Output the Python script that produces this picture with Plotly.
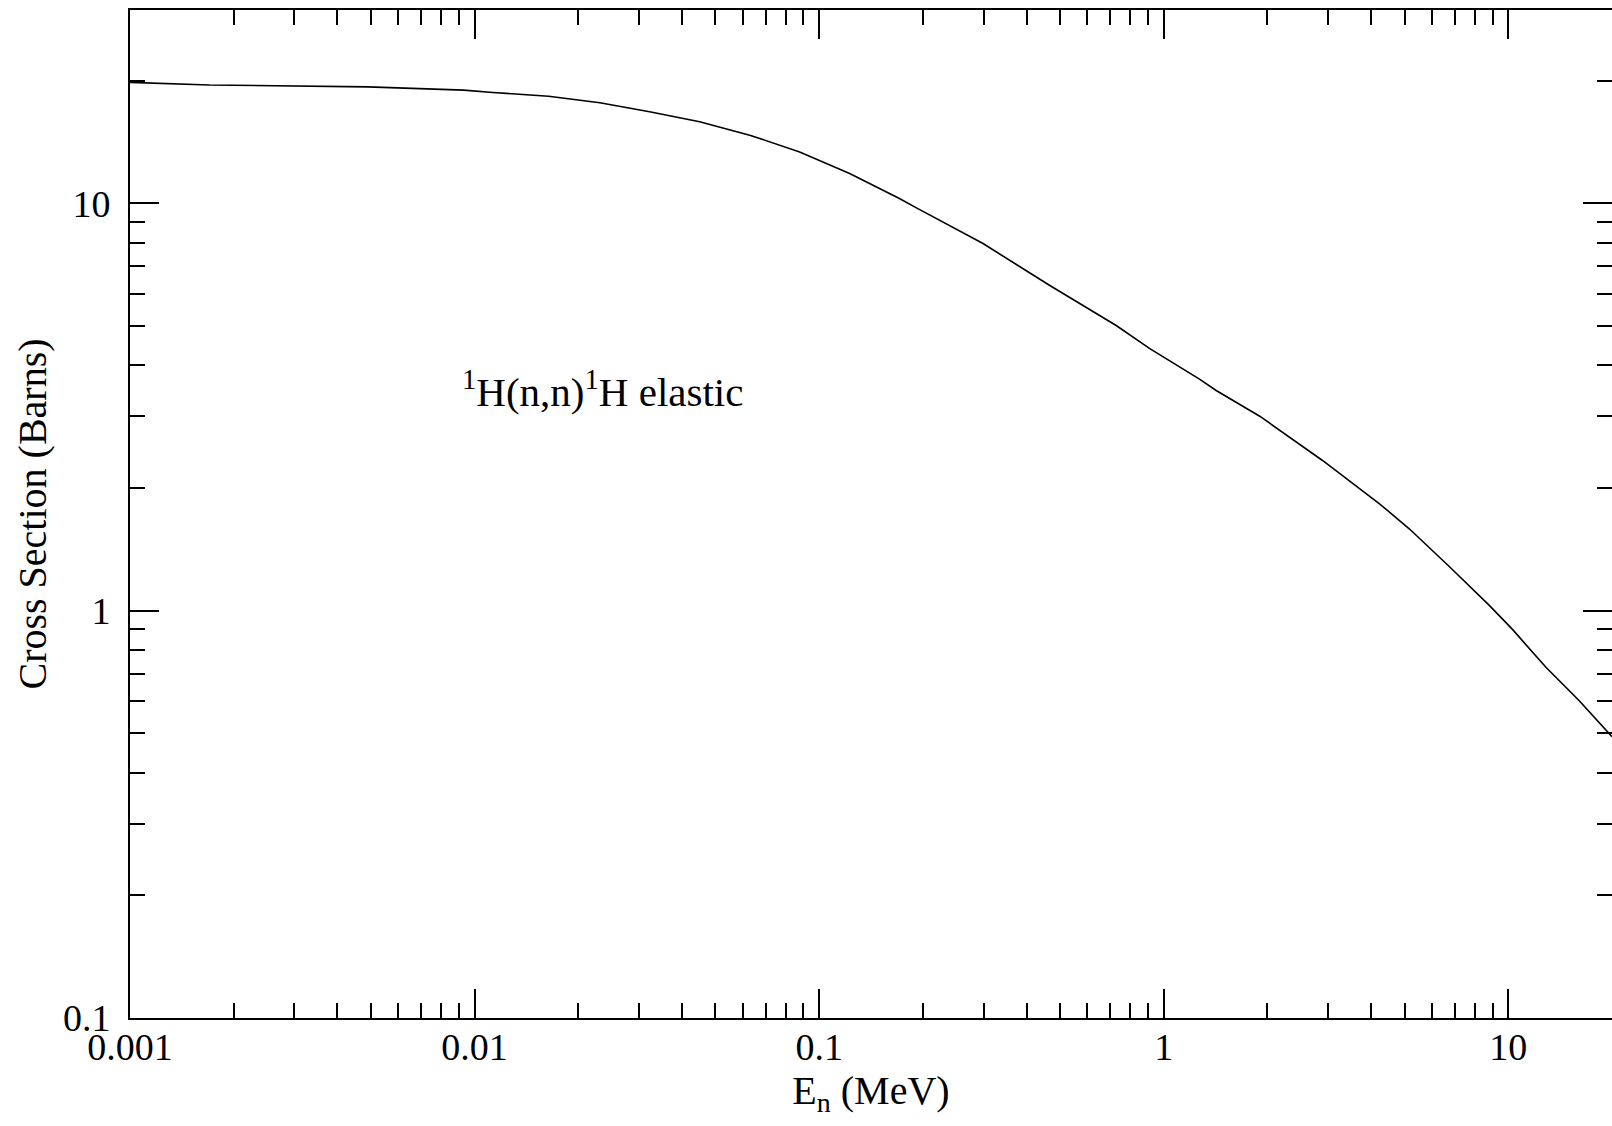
import plotly.graph_objects as go
import numpy as np

# Neutron energy (MeV) and elastic cross section (barns)
energy_mev = [0.001, 0.0017, 0.0049, 0.0093, 0.0113, 0.0164, 0.0231, 0.0322, 0.045,
              0.0629, 0.0878, 0.1226, 0.171, 0.191, 0.299, 0.466, 0.728, 0.909,
              1.27, 1.42, 1.90, 2.89, 4.23, 5.16, 6.74, 8.81, 10.3, 12.86, 16.07, 19.6, 20.0]
sigma_barns = [19.8, 19.5, 19.3, 18.95, 18.7, 18.3, 17.64, 16.76, 15.84,
               14.69, 13.36, 11.83, 10.27, 9.75, 7.96, 6.29, 5.01, 4.40,
               3.70, 3.47, 3.00, 2.336, 1.829, 1.588, 1.283, 1.03, 0.898, 0.726, 0.601, 0.498, 0.49]

x_major = [0.001, 0.01, 0.1, 1, 10]
x_major_labels = ["0.001", "0.01", "0.1", "1", "10"]
y_major = [0.1, 1, 10]
y_major_labels = ["0.1", "1", "10"]
x_minor = [m * 10.0 ** e for e in range(-3, 2) for m in range(2, 10) if m * 10.0 ** e <= 20]
y_minor = [m * 10.0 ** e for e in range(-1, 2) for m in range(2, 10) if m * 10.0 ** e <= 30]

FONT = "Liberation Serif"
FS = 38
X_RANGE = [np.log10(0.001), np.log10(20.0)]
Y_RANGE = [np.log10(0.1), 1.4742]

fig = go.Figure()
fig.add_trace(go.Scatter(x=energy_mev, y=sigma_barns, mode="lines",
                         line=dict(color="black", width=1.6), showlegend=False))
# invisible twin trace so the right-hand tick axis is drawn
fig.add_trace(go.Scatter(x=energy_mev, y=sigma_barns, mode="lines", yaxis="y2",
                         line=dict(color="rgba(0,0,0,0)", width=0), showlegend=False,
                         hoverinfo="skip"))

axis_common = dict(type="log", ticks="inside", ticklen=29, tickwidth=2, tickcolor="black",
                   showgrid=False, zeroline=False,
                   tickfont=dict(family=FONT, size=FS, color="black"))

fig.update_layout(
    width=1612, height=1126,
    margin=dict(l=130, r=0, t=10, b=108),
    paper_bgcolor="white", plot_bgcolor="white",
    font=dict(family=FONT, size=FS, color="black"),
    xaxis=dict(**axis_common, range=X_RANGE, tickvals=x_major, ticktext=x_major_labels,
               showline=True, linecolor="black", linewidth=2, mirror="ticks",
               ticklabelstandoff=-6,
               minor=dict(tickvals=x_minor, ticks="inside", ticklen=15, tickwidth=2,
                          tickcolor="black"),
               title=dict(text="E<sub>n</sub> (MeV)", font=dict(family=FONT, size=40),
                          standoff=2)),
    yaxis=dict(**axis_common, range=Y_RANGE, tickvals=y_major, ticktext=y_major_labels,
               showline=True, linecolor="black", linewidth=2,
               ticklabelstandoff=10,
               minor=dict(tickvals=y_minor, ticks="inside", ticklen=15, tickwidth=2,
                          tickcolor="black"),
               title=dict(text="Cross Section (Barns)", font=dict(family=FONT, size=40),
                          standoff=4)),
    yaxis2=dict(type="log", overlaying="y", side="right", range=Y_RANGE,
                tickvals=y_major, ticks="inside", ticklen=29, tickwidth=2,
                tickcolor="black", showticklabels=False, showline=False,
                showgrid=False, zeroline=False,
                minor=dict(tickvals=y_minor, ticks="inside", ticklen=15, tickwidth=2,
                           tickcolor="black")),
    annotations=[dict(text="<sup>1</sup>H(n,n)<sup>1</sup>H elastic",
                      xref="paper", yref="paper", x=0.2227, y=0.624,
                      xanchor="left", yanchor="middle", showarrow=False,
                      font=dict(family=FONT, size=41, color="black"))],
)

fig.write_html("out.html")
